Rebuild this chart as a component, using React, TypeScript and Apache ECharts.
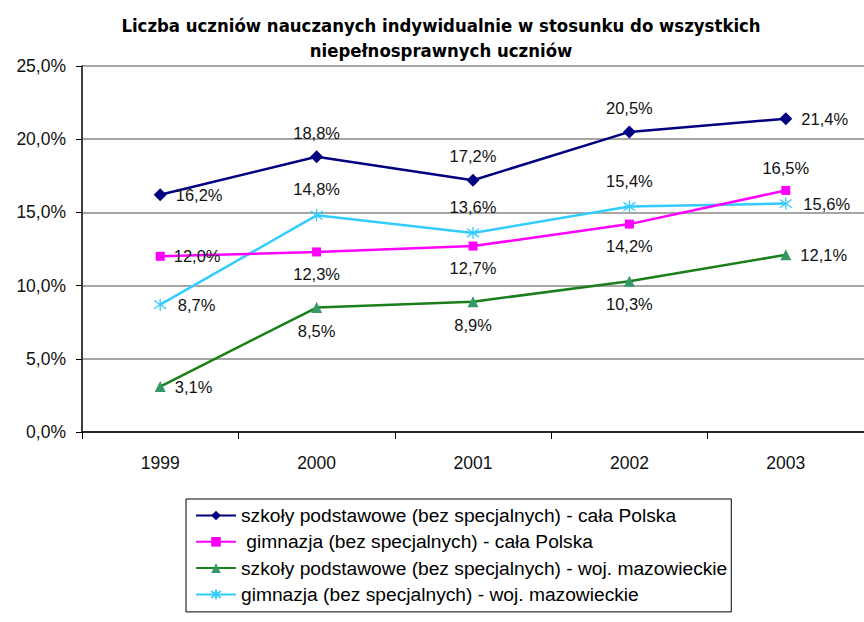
import React, { useEffect, useRef } from "react";
import * as echarts from "echarts";

const titleText = "Liczba uczniów nauczanych indywidualnie w stosunku do wszystkich\nniepełnosprawnych uczniów";
const categories = ["1999", "2000", "2001", "2002", "2003"];
const seriesNames = [
  "szkoły podstawowe (bez specjalnych) - cała Polska",
  " gimnazja (bez specjalnych) - cała Polska",
  "szkoły podstawowe (bez specjalnych) - woj. mazowieckie",
  "gimnazja (bez specjalnych) - woj. mazowieckie",
];
const spPolska = [16.2, 18.8, 17.2, 20.5, 21.4];
const gimPolska = [12.0, 12.3, 12.7, 14.2, 16.5];
const spMaz = [3.1, 8.5, 8.9, 10.3, 12.1];
const gimMaz = [8.7, 14.8, 13.6, 15.4, 15.6];
const yMin = 0;
const yMax = 25;
const yStep = 5;

// label placement (style)
const labelPos = [
  ["right", "top", "top", "top", "right"],
  ["right", "bottom", "bottom", "bottom", "top"],
  ["right", "bottom", "bottom", "bottom", "right"],
  ["right", "top", "top", "top", "right"],
];

const FONT = "'Liberation Sans', Arial, sans-serif";
const fmt = (v: number) => v.toFixed(1).replace(".", ",") + "%";

export default function App() {
  const ref = useRef<HTMLDivElement>(null);
  useEffect(() => {
    if (!ref.current) return;
    const chart = echarts.init(ref.current, undefined, { renderer: "svg" });
    const values = [spPolska, gimPolska, spMaz, gimMaz];
    const colors = ["#000080", "#ff00ff", "#1a7f1a", "#33ccff"];
    const markerColors = ["#000080", "#ff00ff", "#339966", "#33ccff"];
    const symbols = [
      "diamond",
      "rect",
      "triangle",
      "path://M5,0L5,10M0,1.5L10,8.5M0,8.5L10,1.5",
    ];
    const sizes = [13, 9, 11, 12];
    const series = values.map((vals, si) => ({
      name: seriesNames[si],
      type: "line",
      data: vals.map((v, i) => ({
        value: v,
        label: { position: labelPos[si][i] },
      })),
      symbol: symbols[si],
      symbolSize: sizes[si],
      showAllSymbol: true,
      lineStyle: { color: colors[si], width: 2.5 },
      itemStyle:
        si === 3
          ? { color: "none", borderColor: markerColors[si], borderWidth: 1.3 }
          : { color: markerColors[si] },
      label: {
        show: true,
        formatter: (p: any) => fmt(p.value),
        color: "#111",
        fontFamily: FONT,
        fontSize: 16.5,
        distance: 9,
      },
      z: 10 - si,
    }));
    chart.setOption({
      animation: false,
      backgroundColor: "#fff",
      title: {
        text: titleText,
        left: 436,
        textAlign: "center",
        top: 8,
        textStyle: {
          fontFamily: "'Liberation Sans Narrow', 'DejaVu Sans Condensed', sans-serif",
          fontWeight: "bold",
          fontSize: 18.4,
          lineHeight: 25,
          color: "#000",
        },
      },
      grid: { left: 82, top: 66, width: 800, height: 366 },
      legend: {
        orient: "vertical",
        left: 186,
        top: 499,
        padding: [7, 4, 8, 9],
        itemGap: 7.3,
        itemWidth: 40,
        itemHeight: 12,
        borderColor: "#000",
        borderWidth: 1,
        backgroundColor: "#fff",
        textStyle: { fontFamily: FONT, fontSize: 19.2, color: "#000" },
        data: seriesNames,
      },
      xAxis: {
        type: "category",
        data: categories,
        boundaryGap: true,
        axisLine: { lineStyle: { color: "#000", width: 1.5 } },
        axisTick: { show: true, length: 7, lineStyle: { color: "#000" } },
        axisLabel: { fontFamily: FONT, fontSize: 17.5, color: "#111", margin: 22 },
      },
      yAxis: {
        type: "value",
        min: yMin,
        max: yMax,
        interval: yStep,
        axisLine: { show: true, lineStyle: { color: "#000", width: 1.5 } },
        axisTick: { show: true, length: 6, lineStyle: { color: "#000" } },
        axisLabel: {
          fontFamily: FONT,
          fontSize: 17.5,
          color: "#111",
          margin: 16,
          formatter: (v: number) => fmt(v),
        },
        splitLine: { show: true, lineStyle: { color: "#888", width: 1.5 } },
      },
      series,
    });
    return () => chart.dispose();
  }, []);
  return (
    <div
      ref={ref}
      style={{ position: "fixed", left: 0, top: 0, width: 864, height: 622 }}
    />
  );
}
